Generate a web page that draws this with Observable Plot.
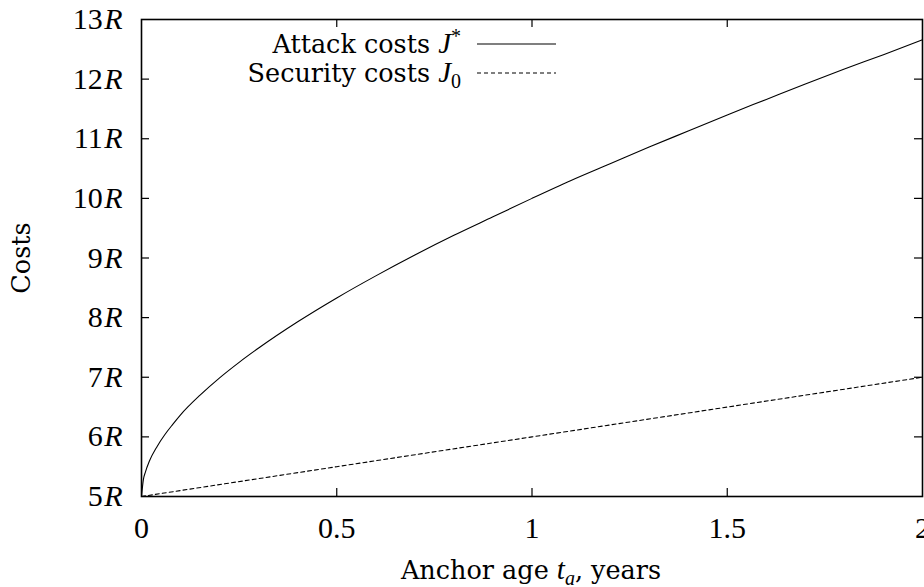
<!DOCTYPE html>
<html>
<head>
<meta charset="utf-8">
<script src="https://cdn.jsdelivr.net/npm/d3@7"></script>
<script src="https://cdn.jsdelivr.net/npm/@observablehq/plot@0.6"></script>
<style>
  html, body { margin: 0; padding: 0; background: #fff; }
  #wrap { position: relative; width: 924px; height: 587px; overflow: hidden; }
  .lbl { position: absolute; font-family: "DejaVu Serif", serif; font-size: 25.5px; color: #000; white-space: nowrap; line-height: 1; }
  .m { font-family: "Liberation Serif", serif; font-style: italic; font-size: 29px; }
  .sub, .sup { font-family: "Liberation Serif", serif; font-size: 20px; line-height: 0; position: relative; }
  .sub { top: 0.28em; }
  .sup { top: -0.5em; }
</style>
</head>
<body>
<div id="wrap"></div>
<script>
// Anchor age t_a (years) and read-off costs (in units of R)
const ageAttack = [0, 0.005, 0.01, 0.02, 0.04, 0.06, 0.08, 0.1, 0.15, 0.2, 0.25, 0.3, 0.4, 0.5, 0.6, 0.7, 0.8, 0.9, 1.0, 1.1, 1.2, 1.3, 1.4, 1.5, 1.6, 1.7, 1.8, 1.9, 2.0];
const attackCosts = [5.0, 5.29, 5.41, 5.59, 5.84, 6.04, 6.21, 6.37, 6.70, 6.99, 7.25, 7.49, 7.93, 8.33, 8.70, 9.05, 9.38, 9.69, 10.0, 10.30, 10.58, 10.86, 11.13, 11.40, 11.66, 11.92, 12.17, 12.41, 12.66];
const ageSecurity = [0, 0.5, 1.0, 1.5, 2.0];
const securityCosts = [5.0, 5.5, 6.0, 6.5, 7.0];
const xTicks = [0, 0.5, 1, 1.5, 2];
const yTicks = [5, 6, 7, 8, 9, 10, 11, 12, 13];
const xTickLabels = ["0", "0.5", "1", "1.5", "2"];
const yTickLabels = ["5R", "6R", "7R", "8R", "9R", "10R", "11R", "12R", "13R"];

const attack = ageAttack.map((t, i) => ({t, v: attackCosts[i]}));
const security = ageSecurity.map((t, i) => ({t, v: securityCosts[i]}));

const W = 924, H = 587;
const mL = 141, mR = 2, mT = 19, mB = 91;
const xSpan = 2 / (W - mL - mR);   // data units per pixel (x)
const ySpan = 8 / (H - mT - mB);   // data units per pixel (y)
const tickLen = 8;
const innerY = yTicks.slice(1, -1), innerX = xTicks.slice(1, -1);

const chart = Plot.plot({
  width: W, height: H,
  marginLeft: mL, marginRight: mR, marginTop: mT, marginBottom: mB,
  style: {background: "#fff", color: "#000", overflow: "visible"},
  x: {domain: [0, 2]},
  y: {domain: [5, 13]},
  marks: [
    Plot.ruleY(innerY, {y: d => d, x1: 0, x2: tickLen * xSpan, stroke: "#000", strokeWidth: 1.2}),
    Plot.ruleY(innerY, {y: d => d, x1: 2 - tickLen * xSpan, x2: 2, stroke: "#000", strokeWidth: 1.2}),
    Plot.ruleX(innerX, {x: d => d, y1: 5, y2: 5 + tickLen * ySpan, stroke: "#000", strokeWidth: 1.2}),
    Plot.ruleX(innerX, {x: d => d, y1: 13 - tickLen * ySpan, y2: 13, stroke: "#000", strokeWidth: 1.2}),
    Plot.line(security, {x: "t", y: "v", stroke: "#000", strokeWidth: 1.1, strokeDasharray: "4,3"}),
    Plot.line(attack, {x: "t", y: "v", stroke: "#000", strokeWidth: 1.1, curve: "monotone-x"}),
    Plot.frame({stroke: "#000", strokeWidth: 1.6}),
    Plot.axisY(yTicks, {tickSize: 0, tickPadding: 19, tickFormat: (d, i) => yTickLabels[i], fontSize: 30, fontFamily: "Liberation Serif", label: null}),
    Plot.axisX(xTicks, {tickSize: 0, tickPadding: 20, tickFormat: (d, i) => xTickLabels[i], fontSize: 30, fontFamily: "Liberation Serif", label: null})
  ]
});

// italic R in y tick labels
d3.select(chart).selectAll('g[aria-label="y-axis tick label"] text').each(function() {
  const s = this.textContent;
  if (s.endsWith("R")) {
    const num = s.slice(0, -1);
    this.textContent = "";
    d3.select(this).append("tspan").text(num);
    d3.select(this).append("tspan").attr("dx", 1.5).attr("font-style", "italic").text("R");
  }
});

const wrap = document.getElementById("wrap");
wrap.appendChild(chart);

function addLabel(html, style) {
  const d = document.createElement("div");
  d.className = "lbl";
  d.innerHTML = html;
  Object.assign(d.style, style);
  wrap.appendChild(d);
  return d;
}
// x-axis label
addLabel('Anchor age <span class="m">t</span><span class="sub" style="font-style:italic">a</span>, years',
  {left: "531px", top: "569px", transform: "translate(-50%,-50%)"});
// y-axis label
addLabel('Costs', {left: "22px", top: "258px", transform: "translate(-50%,-50%) rotate(-90deg)"});

// legend
const legendNames = ['Attack costs <span class="m">J</span><span class="sup">*</span>', 'Security costs <span class="m">J</span><span class="sub">0</span>'];
const legendDash = [null, "4,3"];
const legendY = [44, 73];
legendNames.forEach((n, i) => {
  addLabel(n, {right: (W - 461) + "px", top: (legendY[i] - 1) + "px", transform: "translateY(-50%)"});
});
const svgL = d3.select(wrap).append("svg").attr("width", W).attr("height", H)
  .style("position", "absolute").style("left", 0).style("top", 0).style("pointer-events", "none");
legendY.forEach((y, i) => {
  const l = svgL.append("line").attr("x1", 477).attr("x2", 556).attr("y1", y).attr("y2", y)
    .attr("stroke", "#000").attr("stroke-width", 1.1);
  if (legendDash[i]) l.attr("stroke-dasharray", legendDash[i]);
});
</script>
</body>
</html>
